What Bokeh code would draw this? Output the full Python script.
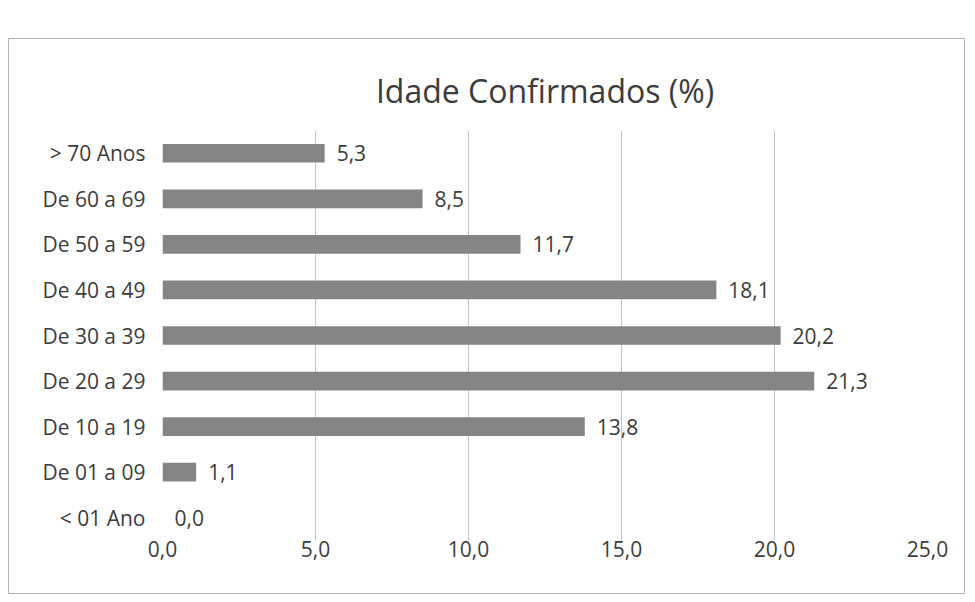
from bokeh.plotting import figure
from bokeh.models import ColumnDataSource, LabelSet, FactorRange, FixedTicker, Range1d
from bokeh.core.properties import value
from bokeh.embed import file_html
from bokeh.resources import INLINE

title_text = "Idade Confirmados (%)"
categories = ["< 01 Ano", "De 01 a 09", "De 10 a 19", "De 20 a 29", "De 30 a 39",
              "De 40 a 49", "De 50 a 59", "De 60 a 69", "> 70 Anos"]
values = [0.0, 1.1, 13.8, 21.3, 20.2, 18.1, 11.7, 8.5, 5.3]
value_labels = ["0,0", "1,1", "13,8", "21,3", "20,2", "18,1", "11,7", "8,5", "5,3"]
x_ticks = [0, 5, 10, 15, 20, 25]
x_tick_labels = ["0,0", "5,0", "10,0", "15,0", "20,0", "25,0"]

FONT = "Open Sans"
TXT = "#3c3c3c"

src = ColumnDataSource(dict(cat=categories, val=values, lab=value_labels))

p = figure(width=957, height=556, y_range=FactorRange(*categories),
           x_range=Range1d(0, 25), output_backend="svg", toolbar_location=None,
           title=title_text,
           min_border_left=153, min_border_right=39, min_border_top=91,
           min_border_bottom=55, margin=(38, 0, 0, 8))
p.styles = {"border": "1px solid #b5b5b5"}

p.hbar(y="cat", right="val", left=0, height=0.41, source=src,
       fill_color="#858585", line_color=None)

labels = LabelSet(x="val", y="cat", text="lab", source=src, x_offset=12,
                  text_baseline="middle", text_font=value(FONT), text_font_size="21px",
                  text_color=TXT)
p.add_layout(labels)

p.title.align = "center"
p.title.text_font = FONT
p.title.text_font_size = "32px"
p.title.text_font_style = "normal"
p.title.text_color = TXT
p.title.standoff = 38

p.xaxis.ticker = FixedTicker(ticks=x_ticks)
p.xaxis.major_label_overrides = {t: l for t, l in zip(x_ticks, x_tick_labels)}
p.xaxis.axis_line_color = None
p.xaxis.major_tick_line_color = None
p.xaxis.minor_tick_line_color = None
p.xaxis.major_label_standoff = -6
p.xaxis.major_label_text_font = FONT
p.xaxis.major_label_text_font_size = "21px"
p.xaxis.major_label_text_color = TXT

p.yaxis.axis_line_color = None
p.yaxis.major_tick_line_color = None
p.yaxis.major_label_standoff = 11
p.yaxis.major_label_text_font = FONT
p.yaxis.major_label_text_font_size = "21px"
p.yaxis.major_label_text_color = TXT

p.xgrid.grid_line_color = "#c4c4c4"
p.xgrid.grid_line_width = 1
p.ygrid.grid_line_color = None
p.outline_line_color = None
p.background_fill_color = "white"
p.border_fill_color = "white"

open("out.html", "w").write(file_html(p, INLINE))
